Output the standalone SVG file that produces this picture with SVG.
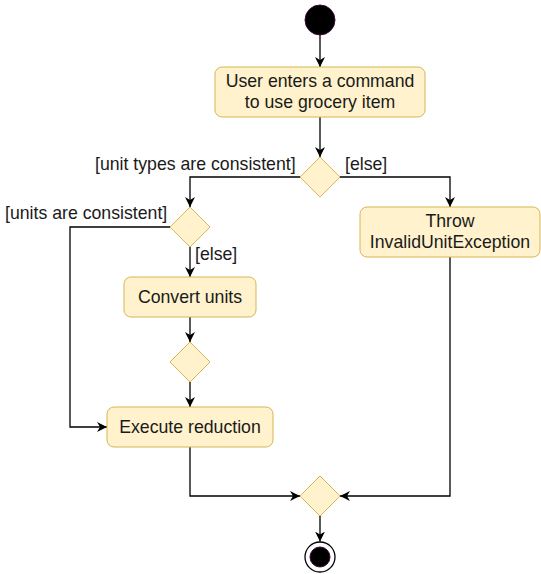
<svg xmlns="http://www.w3.org/2000/svg" width="541" height="574" viewBox="0 0 541 574">
<style>
.node{fill:#fff2cc;stroke:#d6b656;stroke-width:1}
.t{font-family:"Liberation Sans",Arial,sans-serif;font-size:17.7px;fill:#1a1a1a;text-anchor:middle}
.lbl{font-family:"Liberation Sans",Arial,sans-serif;font-size:17.7px;fill:#1a1a1a}
.edge{fill:none;stroke:#000;stroke-width:1.3}
</style>
<defs>
<marker id="arr" viewBox="0 0 10 10" refX="10" refY="5" markerWidth="10" markerHeight="10" markerUnits="userSpaceOnUse" orient="auto">
<path d="M0,0 L10,5 L0,10 L3,5 Z" fill="#000"/>
</marker>
</defs>
<rect width="541" height="574" fill="#fff"/>
<g id="connectors">
<path class="edge" d="M320,35 V67" marker-end="url(#arr)"/>
<path class="edge" d="M320,117 V157" marker-end="url(#arr)"/>
<path class="edge" d="M300,177 H190 V207" marker-end="url(#arr)"/>
<path class="edge" d="M340,177 H450 V207" marker-end="url(#arr)"/>
<path class="edge" d="M170,227 H70 V427 H107" marker-end="url(#arr)"/>
<path class="edge" d="M190,247 V277" marker-end="url(#arr)"/>
<path class="edge" d="M190,317 V342" marker-end="url(#arr)"/>
<path class="edge" d="M190,382 V407" marker-end="url(#arr)"/>
<path class="edge" d="M190,447 V496 H300" marker-end="url(#arr)"/>
<path class="edge" d="M450,257 V496 H340" marker-end="url(#arr)"/>
<path class="edge" d="M320,516 V541.5" marker-end="url(#arr)"/>
<text class="lbl" x="95" y="170">[unit types are consistent]</text>
<text class="lbl" x="345" y="170">[else]</text>
<text class="lbl" x="5" y="219">[units are consistent]</text>
<text class="lbl" x="195" y="260">[else]</text>
</g>
<g id="start">
<circle cx="320" cy="20" r="15" fill="#000" stroke="#3a0a3a" stroke-width="1"/>
</g>
<g id="enter">
<rect class="node" x="215" y="67" width="210" height="50" rx="7"/>
<text class="t" x="320" y="87">User enters a command</text>
<text class="t" x="320" y="108">to use grocery item</text>
</g>
<g id="decision1">
<path class="node" d="M320,157 L340,177 L320,197 L300,177 Z"/>
</g>
<g id="throw">
<rect class="node" x="360" y="207" width="180" height="50" rx="7"/>
<text class="t" x="450" y="227">Throw</text>
<text class="t" x="450" y="248">InvalidUnitException</text>
</g>
<g id="decision2">
<path class="node" d="M190,207 L210,227 L190,247 L170,227 Z"/>
</g>
<g id="convert">
<rect class="node" x="124" y="277" width="132" height="40" rx="7"/>
<text class="t" x="190" y="303">Convert units</text>
</g>
<g id="merge1">
<path class="node" d="M190,342 L210,362 L190,382 L170,362 Z"/>
</g>
<g id="execute">
<rect class="node" x="107" y="407" width="166" height="40" rx="7"/>
<text class="t" x="190" y="433">Execute reduction</text>
</g>
<g id="merge2">
<path class="node" d="M320,476 L340,496 L320,516 L300,496 Z"/>
</g>
<g id="end">
<circle cx="320" cy="557" r="15" fill="#fff" stroke="#000" stroke-width="1.3"/>
<circle cx="320" cy="557" r="10" fill="#000" stroke="#3a0a3a" stroke-width="1"/>
</g>
</svg>
